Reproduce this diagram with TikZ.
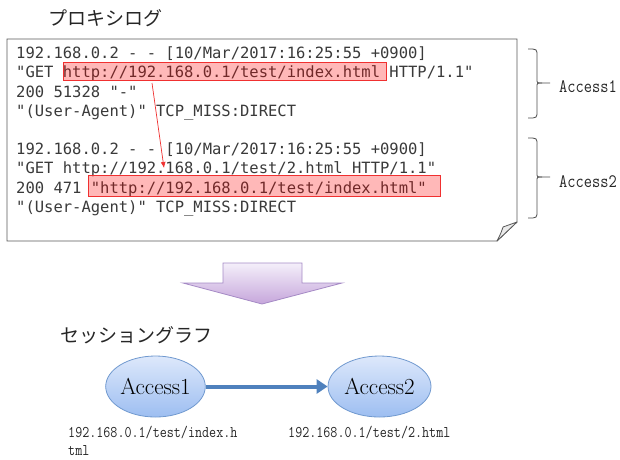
\documentclass[tikz,border=0pt]{standalone}
\usepackage{fontspec}
\newfontfamily\logfont{DejaVu Sans Mono}
\newfontfamily\jpfont{Noto Sans CJK JP}
\newfontfamily\minfont[FakeStretch=0.84]{Latin Modern Mono}
\usetikzlibrary{arrows.meta,shapes.geometric}
\definecolor{txtgray}{HTML}{3A3A3A}
\definecolor{hlred}{HTML}{F03030}
\definecolor{arrowblue}{HTML}{4F81BD}
\definecolor{ellborder}{HTML}{7099CF}
\definecolor{elltop}{HTML}{DDE8FB}
\definecolor{ellbot}{HTML}{9DBEF1}
\definecolor{purtop}{HTML}{F4EFFA}
\definecolor{purbot}{HTML}{C6A6DB}
\definecolor{purborder}{HTML}{A58AC5}
\tikzset{
  logline/.style={anchor=base west, inner sep=0pt, font=\logfont\fontsize{15.5}{18}\selectfont, text=txtgray},
  hlbox/.style={draw=hlred, line width=0.9pt, fill=red, fill opacity=0.28, inner sep=0pt},
  bracepath/.style={draw=black!70, line width=0.8pt},
  sidelbl/.style={anchor=west, inner sep=0pt, font=\minfont\fontsize{19}{21}\selectfont, text=black!85},
  urllbl/.style={anchor=west, inner sep=0pt, font=\minfont\fontsize{16.3}{18}\selectfont, text=black!85},
  jptitle/.style={anchor=west, inner sep=0pt, font=\jpfont\fontsize{19}{22}\selectfont, text=black!85},
  accnode/.style={ellipse, draw=ellborder, line width=0.8pt, top color=elltop, bottom color=ellbot,
     inner sep=0pt, minimum height=61pt, font=\fontsize{23}{26}\selectfont, text=black}
}
\begin{document}
\begin{tikzpicture}[x=1pt,y=-1pt]
\useasboundingbox (0,0) rectangle (620,459);
% title
\node[jptitle] (t1) at (48,18) {プロキシログ};
% document box with folded corner
\draw[black!65, line width=0.8pt, fill=white] (7,39) -- (517,39) -- (517,222) -- (497,241) -- (7,241) -- cycle;
\draw[black!65, line width=0.8pt, fill=black!8, line join=round] (517,222) -- (503,227) .. controls (501,233) .. (497,241) -- cycle;
% log lines
\node[logline] (l1) at (16,58.6) {192.168.0.2 - - [10/Mar/2017:16:25:55 +0900]};
\node[logline] (l2) at (16,77.8) {"GET http://192.168.0.1/test/index.html HTTP/1.1"};
\node[logline] (l3) at (16,97.0) {200 51328 "-"};
\node[logline] (l4) at (16,116.2) {"(User-Agent)" TCP\_MISS:DIRECT};
\node[logline] (l5) at (16,154.6) {192.168.0.2 - - [10/Mar/2017:16:25:55 +0900]};
\node[logline] (l6) at (16,173.8) {"GET http://192.168.0.1/test/2.html HTTP/1.1"};
\node[logline] (l7) at (16,193.0) {200 471 "http://192.168.0.1/test/index.html"};
\node[logline] (l8) at (16,212.2) {"(User-Agent)" TCP\_MISS:DIRECT};
% highlights
\node[hlbox, minimum width=323pt, minimum height=18pt] (h1) at (224.5,71) {};
\node[hlbox, minimum width=352pt, minimum height=21pt] (h2) at (264,185.5) {};
% red arrow
\coordinate (rs) at (152,83);
\coordinate (re) at (164,168);
\draw[hlred, line width=0.7pt, -{Latex[length=6pt,width=5pt]}] (rs) -- (re);
% braces
\draw[bracepath] (528,49) .. controls (537,49) .. (537,56) -- (537,79) .. controls (537,83) .. (542,83) -- (550,83);
\draw[bracepath] (528,118) .. controls (537,118) .. (537,111) -- (537,87) .. controls (537,83) .. (542,83);
\draw[bracepath] (528,138) .. controls (537,138) .. (537,145) -- (537,173) .. controls (537,177) .. (542,177) -- (550,177);
\draw[bracepath] (528,218) .. controls (537,218) .. (537,211) -- (537,181) .. controls (537,177) .. (542,177);
\node[sidelbl] (a1lbl) at (559,87) {Access1};
\node[sidelbl] (a2lbl) at (559,182) {Access2};
% big down arrow
\shade[top color=purtop, bottom color=purbot, draw=purborder, line width=0.8pt, line join=miter]
  (223,263) -- (302,263) -- (302,283) -- (342,283) -- (262,304) -- (183,283) -- (223,283) -- cycle;
% session graph
\node[jptitle] (t2) at (60,335) {セッショングラフ};
\node[accnode, minimum width=99pt] (e1) at (155.5,386.5) {Access1};
\node[accnode, minimum width=103pt] (e2) at (379.5,386.5) {Access2};
\draw[arrowblue, line width=4pt, -{Triangle[length=11pt,width=14pt]}] (e1) -- (e2);
\node[urllbl] (u1a) at (68,433) {192.168.0.1/test/index.h};
\node[urllbl] (u1b) at (68,451) {tml};
\node[urllbl] (u2) at (288,433) {192.168.0.1/test/2.html};
\end{tikzpicture}
\end{document}
